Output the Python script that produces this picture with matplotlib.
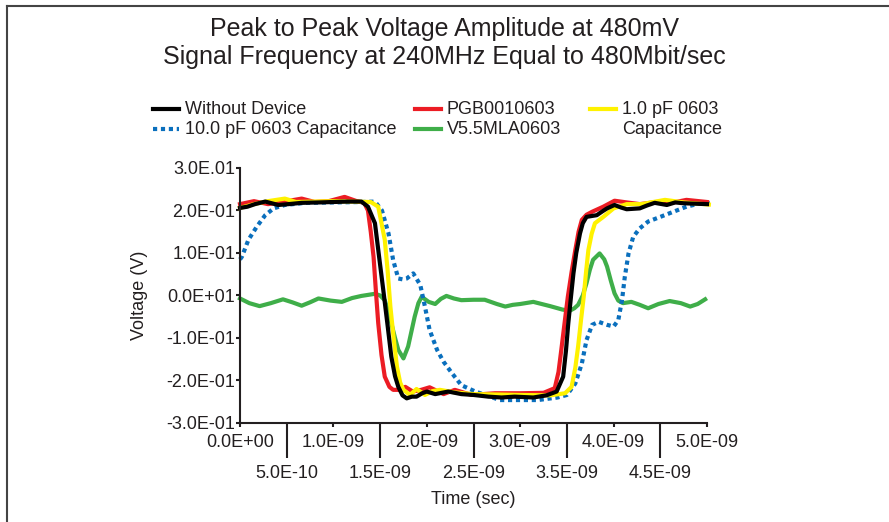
import numpy as np
import matplotlib
matplotlib.use("Agg")
import matplotlib.pyplot as plt
from matplotlib.lines import Line2D

plt.rcParams['font.family'] = ['Liberation Sans', 'DejaVu Sans']

# time in ns, voltage in V
t_black = [0, 0.08, 0.16, 0.27, 0.34, 0.41, 0.52, 0.66, 0.85, 1.0, 1.15, 1.30, 1.37, 1.445, 1.49, 1.534,
           1.58, 1.62, 1.66, 1.695, 1.74, 1.785, 1.84, 1.89, 1.95, 2.0, 2.09, 2.23, 2.37, 2.5, 2.66, 2.8,
           2.94, 3.14, 3.28, 3.39, 3.46, 3.49, 3.515, 3.545, 3.57, 3.6, 3.64, 3.67, 3.71, 3.82, 3.88, 3.93,
           4.01, 4.08, 4.14, 4.28, 4.36, 4.44, 4.57, 4.66, 4.75, 5.0]
v_black = [0.206, 0.209, 0.215, 0.221, 0.217, 0.213, 0.215, 0.218, 0.219, 0.220, 0.221, 0.221, 0.209, 0.17,
           0.09, 0.013, -0.07, -0.144, -0.19, -0.215, -0.235, -0.242, -0.238, -0.238, -0.230, -0.226, -0.232,
           -0.226, -0.232, -0.234, -0.238, -0.240, -0.238, -0.240, -0.235, -0.226, -0.191, -0.13, -0.065, 0.0,
           0.052, 0.10, 0.146, 0.17, 0.185, 0.189, 0.198, 0.205, 0.213, 0.207, 0.203, 0.205, 0.212, 0.218,
           0.213, 0.219, 0.217, 0.215]

t_red = [0, 0.15, 0.3, 0.45, 0.66, 0.8, 0.95, 1.12, 1.25, 1.33, 1.37, 1.40, 1.43, 1.455, 1.48, 1.515, 1.55,
         1.6, 1.64, 1.70, 1.77, 1.85, 1.94, 2.03, 2.18, 2.30, 2.48, 2.73, 3.0, 3.25, 3.37, 3.41, 3.44, 3.475,
         3.51, 3.55, 3.59, 3.625, 3.66, 3.71, 3.77, 3.89, 4.01, 4.14, 4.28, 4.46, 4.62, 4.78, 5.0]
v_red = [0.215, 0.222, 0.215, 0.220, 0.228, 0.220, 0.222, 0.232, 0.222, 0.218, 0.2, 0.15, 0.091, 0.01,
         -0.065, -0.14, -0.191, -0.215, -0.222, -0.222, -0.215, -0.226, -0.222, -0.216, -0.232, -0.222,
         -0.234, -0.230, -0.230, -0.229, -0.218, -0.18, -0.128, -0.065, -0.003, 0.055, 0.107, 0.15, 0.178,
         0.19, 0.197, 0.209, 0.223, 0.219, 0.215, 0.220, 0.218, 0.225, 0.220]

t_yellow = [0, 0.15, 0.3, 0.48, 0.6, 0.8, 1.0, 1.2, 1.40, 1.48, 1.515, 1.55, 1.58, 1.61, 1.645, 1.68, 1.715,
            1.75, 1.82, 1.89, 1.98, 2.06, 2.14, 2.3, 2.5, 2.78, 3.0, 3.32, 3.48, 3.55, 3.59, 3.62, 3.65, 3.68,
            3.705, 3.73, 3.765, 3.80, 3.89, 4.0, 4.14, 4.3, 4.55, 4.75, 5.02]
v_yellow = [0.206, 0.215, 0.222, 0.228, 0.220, 0.221, 0.222, 0.221, 0.220, 0.209, 0.17, 0.131, 0.06, -0.026,
            -0.10, -0.167, -0.205, -0.222, -0.234, -0.220, -0.234, -0.225, -0.222, -0.228, -0.232, -0.233,
            -0.234, -0.235, -0.230, -0.215, -0.17, -0.12, -0.06, -0.003, 0.055, 0.107, 0.145, 0.17, 0.185,
            0.205, 0.215, 0.215, 0.225, 0.219, 0.214]

t_blue = [0.0, 0.02, 0.09, 0.18, 0.27, 0.36, 0.48, 0.7, 1.0, 1.3, 1.445, 1.52, 1.59, 1.64, 1.695, 1.74, 1.785,
          1.855, 1.93, 1.98, 2.03, 2.11, 2.18, 2.27, 2.37, 2.52, 2.73, 2.78, 3.19, 3.40, 3.50, 3.59, 3.66,
          3.71, 3.77, 3.84, 3.93, 4.0, 4.05, 4.09, 4.12, 4.16, 4.21, 4.28, 4.37, 4.50, 4.64, 4.78, 4.93, 5.07]
v_blue = [0.085, 0.091, 0.131, 0.162, 0.189, 0.205, 0.213, 0.218, 0.219, 0.220, 0.221, 0.2, 0.146, 0.083,
          0.04, 0.038, 0.04, 0.052, 0.025, -0.026, -0.081, -0.128, -0.156, -0.183, -0.211, -0.226, -0.242,
          -0.246, -0.246, -0.240, -0.234, -0.207, -0.16, -0.105, -0.069, -0.062, -0.069, -0.073, -0.058,
          -0.011, 0.044, 0.099, 0.138, 0.158, 0.174, 0.185, 0.197, 0.209, 0.217, 0.217]

t_green = [0, 0.1, 0.21, 0.33, 0.46, 0.56, 0.66, 0.75, 0.84, 0.97, 1.09, 1.2, 1.30, 1.445, 1.50, 1.55, 1.59,
           1.62, 1.66, 1.695, 1.75, 1.80, 1.835, 1.87, 1.91, 1.945, 2.02, 2.09, 2.15, 2.21, 2.29, 2.37, 2.5,
           2.62, 2.75, 2.84, 2.92, 3.0, 3.14, 3.32, 3.45, 3.53, 3.58, 3.62, 3.67, 3.71, 3.745, 3.78, 3.85,
           3.9, 3.93, 3.97, 4.01, 4.05, 4.10, 4.19, 4.28, 4.37, 4.48, 4.60, 4.72, 4.82, 4.9, 4.98]
v_green = [-0.007, -0.018, -0.025, -0.018, -0.009, -0.016, -0.024, -0.016, -0.007, -0.012, -0.015, -0.006,
           -0.001, 0.004, 0.0, -0.011, -0.04, -0.065, -0.10, -0.128, -0.148, -0.12, -0.085, -0.05, -0.018,
           -0.003, -0.015, -0.02, -0.008, -0.001, -0.007, -0.011, -0.01, -0.01, -0.02, -0.026, -0.022, -0.02,
           -0.015, -0.025, -0.033, -0.036, -0.03, -0.022, 0.0, 0.029, 0.06, 0.084, 0.099, 0.085, 0.068, 0.035,
           0.005, -0.012, -0.018, -0.015, -0.022, -0.03, -0.02, -0.013, -0.018, -0.026, -0.02, -0.009]

x_major = [0, 1, 2, 3, 4, 5]
x_major_labels = ['0.0E+00', '1.0E-09', '2.0E-09', '3.0E-09', '4.0E-09', '5.0E-09']
x_minor = [0.5, 1.5, 2.5, 3.5, 4.5]
x_minor_labels = ['5.0E-10', '1.5E-09', '2.5E-09', '3.5E-09', '4.5E-09']
y_ticks = [0.3, 0.2, 0.1, 0.0, -0.1, -0.2, -0.3]
y_labels = ['3.0E.01', '2.0E-01', '1.0E-01', '0.0E+01', '-1.0E-01', '-2.0E-01', '-3.0E-01']

fig = plt.figure(figsize=(8.89, 5.22), dpi=100)
W, H = 889, 522
ax = fig.add_axes([240 / W, 1 - 423 / H, 467 / W, 255 / H])

ns = 1e-9
lw = 3
ax.plot(np.array(t_green) * ns, v_green, color='#3fae49', lw=lw, clip_on=False)
ax.plot(np.array(t_blue) * ns, v_blue, color='#0a6fbd', lw=lw, linestyle=(0, (1, 0.9)),
        dash_capstyle='butt', clip_on=False)
ax.plot(np.array(t_red) * ns, v_red, color='#ec1c24', lw=lw, clip_on=False)
ax.plot(np.array(t_yellow) * ns, v_yellow, color='#fff200', lw=lw, clip_on=False)
ax.plot(np.array(t_black) * ns, v_black, color='black', lw=lw, clip_on=False)

ax.set_xlim(0, 5 * ns)
ax.set_ylim(-0.3, 0.3)

dark = '#231f20'
for s in ['top', 'right']:
    ax.spines[s].set_visible(False)
for s in ['left', 'bottom']:
    ax.spines[s].set_linewidth(1.5)
    ax.spines[s].set_color(dark)

ax.set_xticks(np.array(x_major) * ns, x_major_labels)
ax.set_xticks(np.array(x_minor) * ns, x_minor_labels, minor=True)
ax.set_yticks(y_ticks, y_labels)
ax.tick_params(axis='x', which='major', length=3, width=1.5, color=dark, pad=5,
               labelsize=13, labelcolor=dark)
ax.tick_params(axis='x', which='minor', length=25, width=1.5, color=dark, pad=5,
               labelsize=13, labelcolor=dark)
ax.tick_params(axis='y', length=3, width=1.5, color=dark, pad=0.5, labelsize=13,
               labelcolor=dark)

fig.text(473.5 / W, 1 - 499 / H, 'Time (sec)', ha='center', va='center', fontsize=13, color=dark)
fig.text(140 / W, 1 - 295.5 / H, 'Voltage (V)', ha='center', va='center', rotation=90,
         fontsize=13, color=dark)

fig.text(444.5 / W, 1 - 43 / H,
         'Peak to Peak Voltage Amplitude at 480mV\nSignal Frequency at 240MHz Equal to 480Mbit/sec',
         ha='center', va='center', fontsize=18, color=dark, linespacing=1.25)

# legend drawn by hand to keep the wrapped third entry
legend = [
    (153, 109, 'black', '-', 'Without Device'),
    (153, 129, '#0a6fbd', (0, (1, 0.9)), '10.0 pF 0603 Capacitance'),
    (415, 109, '#ec1c24', '-', 'PGB0010603'),
    (415, 129, '#3fae49', '-', 'V5.5MLA0603'),
    (590, 109, '#fff200', '-', '1.0 pF 0603'),
]
for x0, y0, c, ls, lab in legend:
    fig.add_artist(Line2D([x0 / W, (x0 + 26) / W], [1 - y0 / H, 1 - y0 / H], color=c, lw=lw,
                          linestyle=ls, dash_capstyle='butt'))
    fig.text((x0 + 32) / W, 1 - y0 / H, lab, ha='left', va='center', fontsize=13, color=dark)
fig.text(622 / W, 1 - 129 / H, 'Capacitance', ha='left', va='center', fontsize=13, color=dark)

# outer frame (left and top edges visible)
fig.add_artist(Line2D([7 / W, 7 / W], [0, 1 - 6 / H], color='#444444', lw=1.5))
fig.add_artist(Line2D([7 / W, 1], [1 - 6 / H, 1 - 6 / H], color='#444444', lw=1.5))

fig.savefig('out.png', dpi=100)
